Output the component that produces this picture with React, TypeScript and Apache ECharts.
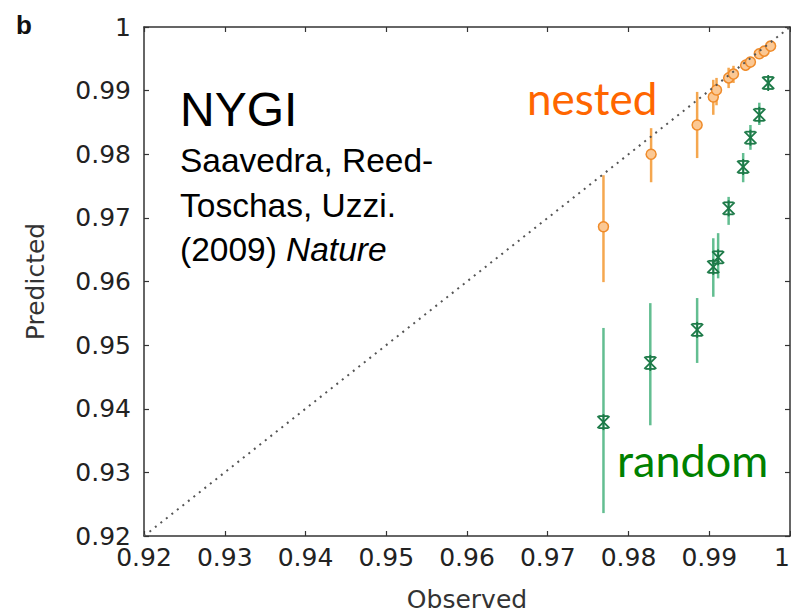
import React, { useEffect, useRef } from "react";
import * as echarts from "echarts";

const tickValues = [0.92, 0.93, 0.94, 0.95, 0.96, 0.97, 0.98, 0.99, 1];

const nestedObserved = [0.9769, 0.9828, 0.9885, 0.9905, 0.9909, 0.9924, 0.993, 0.9945, 0.9951, 0.9962, 0.9968, 0.9976];
const nestedPredicted = [0.9686, 0.98, 0.9846, 0.989, 0.9901, 0.992, 0.9926, 0.994, 0.9945, 0.9958, 0.9962, 0.997];
const nestedLow = [0.9599, 0.9756, 0.9794, 0.9862, 0.9877, 0.9904, 0.9912, 0.9931, 0.9936, 0.995, 0.9954, 0.9965];
const nestedHigh = [0.9767, 0.9841, 0.9898, 0.9917, 0.992, 0.9936, 0.9939, 0.9948, 0.9953, 0.9964, 0.9969, 0.9975];

const randomObserved = [0.9769, 0.9827, 0.9885, 0.9905, 0.9911, 0.9924, 0.9942, 0.9951, 0.9962, 0.9973];
const randomPredicted = [0.9379, 0.9472, 0.9524, 0.9623, 0.9638, 0.9715, 0.978, 0.9826, 0.9862, 0.9912];
const randomLow = [0.9236, 0.9374, 0.9472, 0.9576, 0.9605, 0.9689, 0.9756, 0.9807, 0.9846, 0.9904];
const randomHigh = [0.9527, 0.9566, 0.9574, 0.9668, 0.9676, 0.9733, 0.9802, 0.9846, 0.9881, 0.992];

const diagonal = [
  [0.92, 0.92],
  [1, 1],
];

export default function App() {
  const ref = useRef<HTMLDivElement>(null);
  useEffect(() => {
    document.body.style.margin = "0";
    const chart = echarts.init(ref.current!, null, { renderer: "svg" });
    const nestedData = nestedObserved.map((x, i) => [x, nestedPredicted[i], nestedLow[i], nestedHigh[i]]);
    const randomData = randomObserved.map((x, i) => [x, randomPredicted[i], randomLow[i], randomHigh[i]]);
    const axisFont = { fontFamily: "DejaVu Sans, sans-serif", fontSize: 25, color: "#333" };

    const errorBar = (color: string) => (params: any, api: any) => {
      const x = api.value(0);
      const lo = api.coord([x, api.value(2)]);
      const hi = api.coord([x, api.value(3)]);
      return {
        type: "line",
        shape: { x1: lo[0], y1: lo[1], x2: hi[0], y2: hi[1] },
        style: { stroke: color, lineWidth: 2.5 },
      };
    };

    const starMarker = (params: any, api: any) => {
      const p = api.coord([api.value(0), api.value(1)]);
      const s = 6;
      const st = { stroke: "#1d7a48", lineWidth: 1.8 };
      return {
        type: "group",
        children: [
          { type: "line", shape: { x1: p[0] - s, y1: p[1] - s, x2: p[0] + s, y2: p[1] + s }, style: st },
          { type: "line", shape: { x1: p[0] - s, y1: p[1] + s, x2: p[0] + s, y2: p[1] - s }, style: st },
          { type: "line", shape: { x1: p[0] - s + 1, y1: p[1] - s, x2: p[0] + s - 1, y2: p[1] - s }, style: st },
          { type: "line", shape: { x1: p[0] - s + 1, y1: p[1] + s, x2: p[0] + s - 1, y2: p[1] + s }, style: st },
          { type: "line", shape: { x1: p[0], y1: p[1] - s - 2, x2: p[0], y2: p[1] + s + 2 }, style: st },
        ],
      };
    };

    const baseAxis = {
      type: "value" as const,
      min: 0.92,
      max: 1,
      interval: 0.01,
      splitLine: { show: false },
      axisLine: { show: true, onZero: false, lineStyle: { color: "#333", width: 1.5 } },
      axisTick: { show: true, inside: true, length: 5, lineStyle: { color: "#333", width: 1.2 } },
    };

    const fmt = (v: number) => {
      const m = tickValues.find((t) => Math.abs(t - v) < 1e-6);
      return m === undefined ? "" : String(m);
    };

    chart.setOption({
      animation: false,
      grid: { left: 144, right: 1, top: 27, bottom: 80, outerBoundsMode: "none", containLabel: false },
      xAxis: [
        {
          ...baseAxis,
          position: "bottom",
          name: "Observed",
          nameLocation: "middle",
          nameGap: 51,
          nameTextStyle: axisFont,
          axisLabel: { ...axisFont, color: "#222", margin: 9, formatter: fmt, alignMaxLabel: "right" },
        },
        { ...baseAxis, position: "top", axisLabel: { show: false } },
      ],
      yAxis: [
        {
          ...baseAxis,
          position: "left",
          name: "Predicted",
          nameLocation: "middle",
          nameGap: 96,
          nameTextStyle: axisFont,
          axisLabel: { ...axisFont, color: "#222", margin: 13, formatter: fmt },
        },
        { ...baseAxis, position: "right", axisLabel: { show: false } },
      ],
      series: [
        {
          type: "line",
          data: diagonal,
          symbol: "none",
          lineStyle: { color: "#555", width: 2, type: [2, 5] },
          silent: true,
        },
        { type: "custom", data: nestedData, renderItem: errorBar("#f5a74f"), silent: true },
        {
          type: "scatter",
          data: nestedData.map((d) => [d[0], d[1]]),
          symbol: "circle",
          symbolSize: 10,
          itemStyle: { color: "#fbc894", borderColor: "#ef8b2a", borderWidth: 1.5, opacity: 1 },
          silent: true,
        },
        { type: "custom", data: randomData, renderItem: errorBar("#63be91"), silent: true },
        { type: "custom", data: randomData, renderItem: starMarker, silent: true },
      ],
      graphic: [
        { type: "text", style: { text: "b", x: 16, y: 25, font: "bold 26px Liberation Sans, Arial, sans-serif", fill: "#111", verticalAlign: "middle" } },
        { type: "text", style: { text: "NYGI", x: 180, y: 109, font: "48px Liberation Sans, Arial, sans-serif", fill: "#000", verticalAlign: "middle" } },
        { type: "text", style: { text: "Saavedra, Reed-", x: 180, y: 160, font: "33.5px Liberation Sans, Arial, sans-serif", fill: "#000", verticalAlign: "middle" } },
        { type: "text", style: { text: "Toschas, Uzzi.", x: 180, y: 205, font: "33.5px Liberation Sans, Arial, sans-serif", fill: "#000", verticalAlign: "middle" } },
        { type: "text", style: { text: "(2009) ", x: 180, y: 249, font: "33.5px Liberation Sans, Arial, sans-serif", fill: "#000", verticalAlign: "middle" } },
        { type: "text", style: { text: "Nature", x: 286, y: 249, font: "italic 33.5px Liberation Sans, Arial, sans-serif", fill: "#000", verticalAlign: "middle" } },
        { type: "text", style: { text: "nested", x: 527, y: 98, font: "44px Lato, sans-serif", fill: "#ff6600", verticalAlign: "middle" } },
        { type: "text", style: { text: "random", x: 617, y: 460, font: "45px Lato, sans-serif", fill: "#008000", verticalAlign: "middle" } },
      ],
    });
    return () => chart.dispose();
  }, []);
  return <div ref={ref} style={{ width: 791, height: 616 }} />;
}
